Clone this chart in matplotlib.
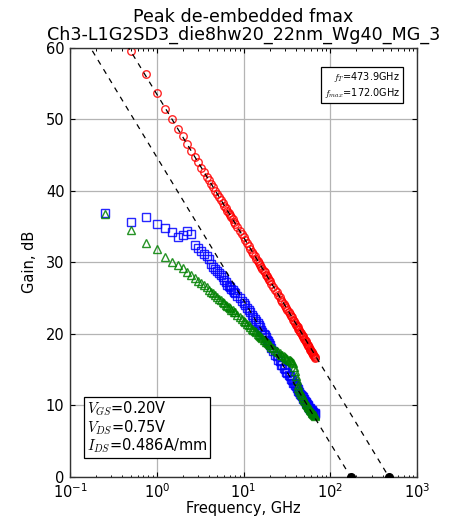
import matplotlib
matplotlib.use("Agg")
import matplotlib.pyplot as plt
import numpy as np

FREQ_GHZ = [0.25, 0.5, 0.75, 1.0, 1.25, 1.5, 1.75, 2.0, 2.25, 2.5, 2.75, 3.0, 3.25, 3.5, 3.75, 4.0,
            4.25, 4.5, 4.75, 5.0, 5.25, 5.5, 5.75, 6.0, 6.25, 6.5, 6.75, 7.0, 7.25, 7.5, 7.75, 8.0,
            8.5, 9.0, 9.5, 10.0, 10.5, 11.0, 11.5, 12.0, 12.5, 13.0, 13.5, 14.0, 14.5, 15.0, 15.5, 16.0,
            16.5, 17.0, 17.5, 18.0, 18.5, 19.0, 19.5, 20.0,
            21, 22, 23, 24, 25, 26, 27, 28, 29, 30, 31, 32, 33, 34, 35, 36, 37, 38, 39, 40,
            41, 42, 43, 44, 45, 46, 47, 48, 49, 50, 51, 52, 53, 54, 55, 56, 57, 58, 59, 60,
            61, 62, 63, 64, 65, 66, 67]

H21_DB = [65.5, 59.6, 56.4, 53.7, 51.5, 50.0, 48.6, 47.6, 46.6, 45.6, 44.7, 44.0, 43.2, 42.6, 42.0, 41.5,
          40.9, 40.5, 40.0, 39.5, 39.1, 38.7, 38.3, 37.9, 37.6, 37.2, 36.9, 36.6, 36.3, 36.0, 35.7, 35.4,
          34.9, 34.4, 33.9, 33.5, 33.1, 32.7, 32.3, 31.9, 31.5, 31.2, 30.9, 30.5, 30.2, 29.9, 29.6, 29.4,
          29.1, 28.8, 28.6, 28.3, 28.1, 27.8, 27.6, 27.4,
          27.0, 26.6, 26.2, 25.8, 25.5, 25.1, 24.8, 24.5, 24.2, 23.9, 23.6, 23.3, 23.0, 22.8, 22.5, 22.3,
          22.0, 21.8, 21.5, 21.3, 21.1, 20.9, 20.7, 20.5, 20.3, 20.1, 19.9, 19.7, 19.5, 19.3, 19.1, 19.0,
          18.8, 18.6, 18.4, 18.3, 18.1, 17.9, 17.8, 17.6, 17.5, 17.3, 17.2, 17.0, 16.9, 16.7, 16.6]

MAG_DB = [36.9, 35.7, 36.3, 35.4, 34.8, 34.2, 33.6, 33.8, 34.4, 34.0, 32.4, 32.0, 31.6, 31.2, 30.9, 30.4,
          29.8, 29.4, 29.1, 28.8, 28.5, 28.2, 27.9, 27.6, 27.3, 26.9, 26.7, 26.5, 26.3, 26.1, 25.9, 25.7,
          25.3, 25.0, 24.6, 24.3, 24.0, 23.6, 23.3, 23.0, 22.7, 22.4, 22.1, 21.8, 21.5, 21.2, 20.9, 20.6,
          20.3, 20.0, 19.8, 19.5, 19.2, 19.0, 18.7, 18.5,
          18.0, 17.6, 17.1, 16.9, 16.4, 16.2, 15.7, 15.6, 15.2, 15.1, 14.7, 14.6, 14.2, 14.1, 13.7, 13.6,
          13.2, 13.1, 12.8, 12.7, 12.4, 12.3, 12.0, 11.9, 11.6, 11.5, 11.3, 11.2, 10.9, 10.9, 10.6, 10.5,
          10.3, 10.2, 10.0, 9.9, 9.7, 9.7, 9.5, 9.4, 9.3, 9.2, 9.1, 9.0, 8.9, 8.9, 8.8]

U_DB = [36.8, 34.5, 32.7, 31.8, 30.8, 30.1, 29.6, 29.2, 28.7, 28.3, 27.8, 27.4, 27.1, 26.8, 26.5, 26.2,
        25.9, 25.7, 25.4, 25.2, 24.9, 24.7, 24.5, 24.3, 24.1, 23.9, 23.8, 23.6, 23.4, 23.3, 23.1, 23.0,
        22.7, 22.4, 22.1, 21.8, 21.6, 21.4, 21.2, 20.9, 20.7, 20.5, 20.4, 20.2, 20.0, 19.8, 19.7, 19.5,
        19.4, 19.2, 19.1, 18.9, 18.8, 18.7, 18.6, 18.5,
        18.2, 18.0, 17.8, 17.6, 17.4, 17.3, 17.1, 17.0, 16.9, 16.7, 16.6, 16.5, 16.4, 16.3, 16.2, 16.1,
        16.0, 15.4, 14.8, 14.1, 13.5, 12.9, 12.5, 12.2, 11.9, 11.6, 11.4, 11.2, 11.0, 10.8, 10.6, 10.4,
        10.2, 10.1, 9.9, 9.8, 9.6, 9.5, 9.3, 9.2, 9.1, 9.0, 8.9, 8.8, 8.7, 8.6, 8.5]

FT_GHZ = 473.9
FMAX_GHZ = 172.0
VGS = 0.20
VDS = 0.75
IDS = 0.486

TITLE = "Peak de-embedded fmax\nCh3-L1G2SD3_die8hw20_22nm_Wg40_MG_3"

plt.rcParams["font.family"] = ["DejaVu Sans"]
plt.rcParams["mathtext.fontset"] = "cm"
plt.rcParams["axes.unicode_minus"] = False

fig = plt.figure(figsize=(4.67, 5.19), dpi=100, facecolor="white")
ax = fig.add_axes([0.150, 0.081, 0.743, 0.827])

mk = dict(linestyle="none", mfc="none", ms=5.4, mew=1.0, alpha=0.85)
ax.plot(FREQ_GHZ, H21_DB, marker="o", mec="r", **mk)
ax.plot(FREQ_GHZ, MAG_DB, marker="s", mec="b", **mk)
ax.plot(FREQ_GHZ, U_DB, marker="^", mec="g", **mk)

# -20 dB/dec extrapolation lines down to the crossing points
for f0 in (FMAX_GHZ, FT_GHZ):
    fx = np.array([0.1, f0])
    ax.plot(fx, 20 * np.log10(f0 / fx), "k--", lw=0.9, dashes=(4.3, 4.3), zorder=4)
    ax.plot([f0], [0], "ko", ms=5.5, zorder=5)

ax.set_xscale("log")
ax.set_xlim(0.1, 1000)
ax.set_ylim(0, 60)
ax.set_yticks(range(0, 61, 10))
ax.grid(True, which="major", color="#b4b4b4", lw=0.9, ls="-")
ax.set_axisbelow(True)
ax.tick_params(which="both", direction="in", top=True, right=True, labelsize=10.5, pad=4)
ax.tick_params(which="major", length=3.5, width=0.8)
ax.tick_params(which="minor", length=1.8, width=0.7)
for s in ax.spines.values():
    s.set_linewidth(1.0)
    s.set_color("#333333")

ax.set_xlabel("Frequency, GHz", fontsize=10.5, labelpad=0)
ax.set_ylabel("Gain, dB", fontsize=10.5, labelpad=6)
ax.set_title(TITLE, fontsize=12.6, pad=6, linespacing=0.95)

ax.text(0.952, 0.948, f"$f_T$={FT_GHZ:.1f}GHz\n$f_{{max}}$={FMAX_GHZ:.1f}GHz",
        transform=ax.transAxes, ha="right", va="top", fontsize=7, multialignment="right",
        bbox=dict(boxstyle="square,pad=0.3", fc="white", ec="black", lw=0.9), zorder=6)
ax.text(0.049, 0.051, f"$V_{{GS}}$={VGS:.2f}V\n$V_{{DS}}$={VDS:.2f}V\n$I_{{DS}}$={IDS:.3f}A/mm",
        transform=ax.transAxes, ha="left", va="bottom", fontsize=10.5, linespacing=1.0,
        bbox=dict(boxstyle="square,pad=0.2", fc="white", ec="black", lw=0.9), zorder=6)

fig.savefig("out.png", dpi=100, facecolor="white")
